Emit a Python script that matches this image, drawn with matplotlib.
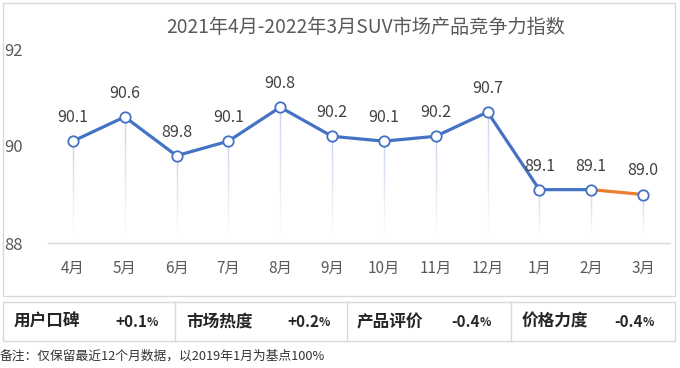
import numpy as np
import matplotlib
matplotlib.use("Agg")
import matplotlib.pyplot as plt
from matplotlib.patches import Rectangle

plt.rcParams['font.family'] = ['Noto Sans CJK SC', 'DejaVu Sans']

# data
months = ['4月', '5月', '6月', '7月', '8月', '9月', '10月', '11月', '12月', '1月', '2月', '3月']
index_values = [90.1, 90.6, 89.8, 90.1, 90.8, 90.2, 90.1, 90.2, 90.7, 89.1, 89.1, 89.0]
y_ticks = [88, 90, 92]
title = '2021年4月-2022年3月SUV市场产品竞争力指数'
factor_names = ['用户口碑', '市场热度', '产品评价', '价格力度']
factor_changes = ['+0.1', '+0.2', '-0.4', '-0.4']
note = '备注：仅保留最近12个月数据，以2019年1月为基点100%'

W, H = 680, 368
blue = '#4472C4'
orange = '#ED7D31'
grey_text = '#595959'
border = '#d9d9d9'

fig = plt.figure(figsize=(W / 100, H / 100), dpi=100)


def fx(px):
    return px / W


def fy(py):
    return 1 - py / H


# outer box of the chart and the table underneath
fig.add_artist(Rectangle((fx(3), fy(296)), fx(672), 293 / H, transform=fig.transFigure,
                         fill=False, edgecolor=border, linewidth=1))
fig.add_artist(Rectangle((fx(3), fy(341)), fx(672), 39 / H, transform=fig.transFigure,
                         fill=False, edgecolor=border, linewidth=1))
for xd in [175, 347, 511]:
    fig.add_artist(plt.Line2D([fx(xd), fx(xd)], [fy(341), fy(302)], transform=fig.transFigure,
                              color=border, linewidth=1))

# plot area: 88 at y=243px, 92 at y=49px
ax = fig.add_axes([fx(48), fy(243), fx(622), (243 - 49) / H])
x = np.arange(len(months))
ax.set_xlim(-0.48, 11.52)
ax.set_ylim(88, 92)

# fading drop lines from each point to the axis
for xi, yi in zip(x, index_values):
    ys = np.linspace(yi, 88.15, 25)
    for k in range(len(ys) - 1):
        a = 1 - k / (len(ys) - 1)
        ax.plot([xi, xi], [ys[k], ys[k + 1]], color='#c5d3ea', linewidth=1,
                alpha=max(a, 0.05), solid_capstyle='butt', zorder=1)

ax.plot(x[:-1], index_values[:-1], color=blue, linewidth=2.3, zorder=3)
ax.plot(x[-2:], index_values[-2:], color=orange, linewidth=2.3, zorder=3)
ax.plot(x, index_values, linestyle='none', marker='o', markersize=7.5,
        markerfacecolor='white', markeredgecolor=blue, markeredgewidth=1.3, zorder=4)

for xi, yi in zip(x, index_values):
    ax.annotate(f'{yi:.1f}', (xi, yi), xytext=(0, 17), textcoords='offset points',
                ha='center', va='center', fontsize=11.5, color='#404040')

ax.set_yticks(y_ticks)
ax.set_yticklabels([str(v) for v in y_ticks])
ax.set_xticks(x)
ax.set_xticklabels(months)
ax.tick_params(axis='y', length=0, pad=18, labelsize=12, labelcolor=grey_text)
ax.tick_params(axis='x', length=0, pad=12, labelsize=11, labelcolor=grey_text)
for s in ['top', 'right', 'left']:
    ax.spines[s].set_visible(False)
ax.spines['bottom'].set_color(border)
ax.spines['bottom'].set_linewidth(1)
ax.patch.set_alpha(0)

fig.text(fx(366), fy(27), title, ha='center', va='center', fontsize=13.8, color=grey_text)

# table row
name_x = [14, 186, 357, 522]
val_x = [147, 319, 480, 643]
for nx, vx, name, val in zip(name_x, val_x, factor_names, factor_changes):
    fig.text(fx(nx), fy(322), name, ha='left', va='center', fontsize=12,
             fontweight='bold', color='#262626')
    fig.text(fx(vx), fy(322), val, ha='right', va='center', fontsize=11,
             fontweight='bold', color='#262626')
    fig.text(fx(vx), fy(323), '%', ha='left', va='center', fontsize=8.5,
             fontweight='bold', color='#262626')

fig.text(fx(0), fy(356), note, ha='left', va='center', fontsize=9.2, color='#333333')

fig.savefig('out.png', dpi=100)
